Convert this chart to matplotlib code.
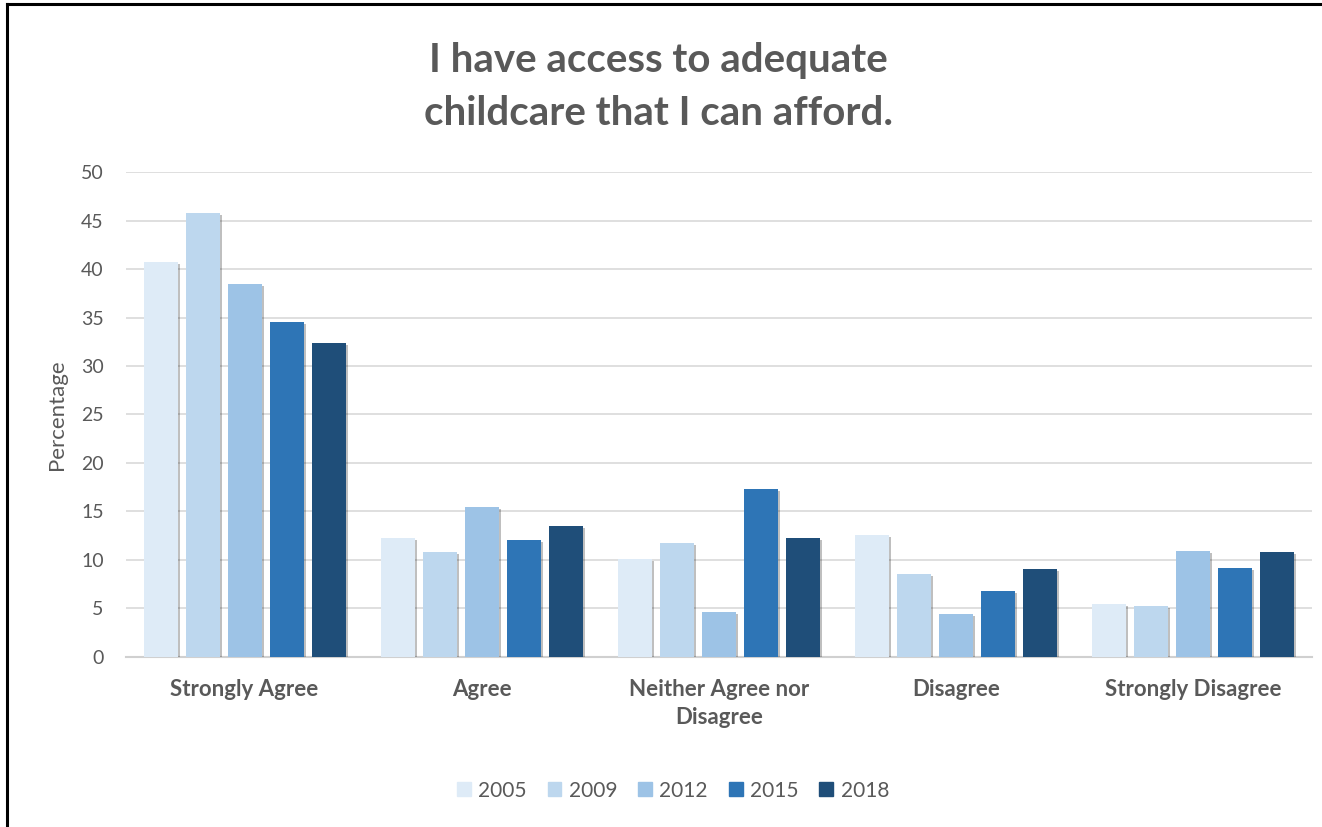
import matplotlib.pyplot as plt
import matplotlib.patheffects as pe
import numpy as np
from matplotlib.lines import Line2D

categories = ['Strongly Agree', 'Agree', 'Neither Agree nor\nDisagree', 'Disagree', 'Strongly Disagree']
years = ['2005', '2009', '2012', '2015', '2018']
v2005 = [40.7, 12.3, 10.1, 12.6, 5.5]
v2009 = [45.8, 10.8, 11.8, 8.6, 5.3]
v2012 = [38.5, 15.5, 4.6, 4.4, 10.9]
v2015 = [34.5, 12.1, 17.3, 6.8, 9.2]
v2018 = [32.4, 13.5, 12.3, 9.1, 10.8]
colors = ['#DEEBF7', '#BDD7EE', '#9DC3E6', '#2E75B6', '#1F4E79']

plt.rcParams['font.family'] = ['Lato', 'DejaVu Sans']
grey = '#595959'

fig = plt.figure(figsize=(13.22, 8.27), dpi=100)
ax = fig.add_axes([0.0953, 0.2056, 0.8971, 0.5864])

x = np.arange(len(categories))
slot = 0.177
barw = 0.143
shadow = [pe.SimplePatchShadow(offset=(1.5, -1.5), shadow_rgbFace='#000000', alpha=0.25), pe.Normal()]
for i, (vals, yr) in enumerate(zip([v2005, v2009, v2012, v2015, v2018], years)):
    bars = ax.bar(x + (i - 2) * slot, vals, width=barw, color=colors[i], label=yr, zorder=3)
    for b in bars:
        b.set_path_effects(shadow)

ax.set_xlim(-0.5, 4.5)
ax.set_ylim(0, 50)
ax.set_yticks(range(0, 51, 5))
ax.grid(axis='y', color='#d9d9d9', linewidth=1.2, zorder=0)
for s in ['top', 'right', 'left']:
    ax.spines[s].set_visible(False)
ax.spines['bottom'].set_color('#d0d0d0')
ax.spines['bottom'].set_linewidth(1.5)
ax.tick_params(axis='y', length=0, labelsize=14, labelcolor=grey, pad=16)
ax.tick_params(axis='x', length=0, labelsize=16, labelcolor=grey, pad=16)
ax.set_xticks(x)
ax.set_xticklabels(categories, fontweight='bold', linespacing=1.4)
ax.set_ylabel('Percentage', fontsize=16, color=grey, labelpad=10)

fig.text(0.498, 0.895, 'I have access to adequate\nchildcare that I can afford.', ha='center', va='center',
         fontsize=29, fontweight='bold', color=grey, linespacing=1.55)

handles = [plt.Rectangle((0, 0), 1, 1, color=c) for c in colors]
fig.legend(handles, years, loc='center', bbox_to_anchor=(0.509, 0.044), ncol=5, frameon=False,
           fontsize=15, labelcolor=grey, handlelength=0.67, handleheight=0.67, handletextpad=0.35, columnspacing=1.0)

# outer border (top and left visible in the reference crop)
fig.add_artist(Line2D([0.0053, 0.0053], [0, 0.9946], transform=fig.transFigure, color='black', linewidth=2.2))
fig.add_artist(Line2D([0.0053, 1.0], [0.9946, 0.9946], transform=fig.transFigure, color='black', linewidth=2.2))

fig.savefig('out.png', dpi=100)
